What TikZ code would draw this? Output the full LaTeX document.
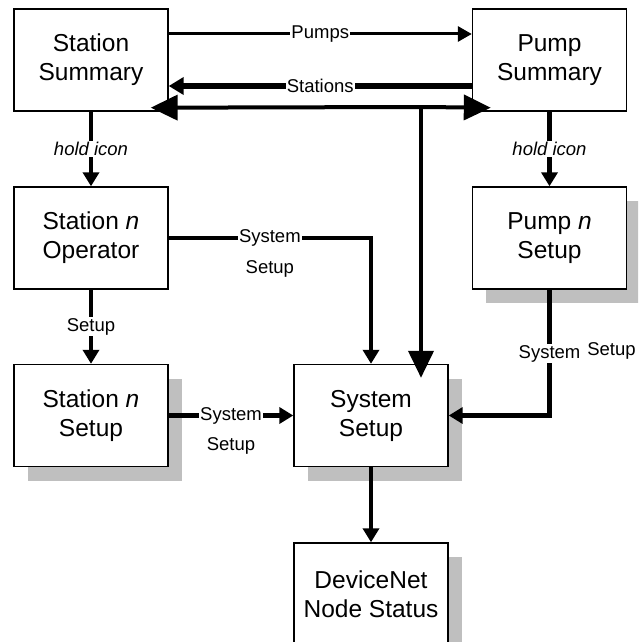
\documentclass[tikz,border=0pt]{standalone}
\usepackage{fontspec}
\setmainfont{Liberation Sans}
\usetikzlibrary{arrows.meta,shadows,calc}
\begin{document}
\begin{tikzpicture}[x=1pt,y=-1pt,
  box/.style={draw, line width=1.4pt, fill=white, minimum width=154pt, minimum height=102pt,
    align=center, inner sep=0pt, font=\fontsize{24.5}{29}\selectfont},
  shad/.style={drop shadow={shadow xshift=13.5pt, shadow yshift=-14pt, fill=black!25, opacity=1}},
  lbl/.style={fill=white, inner sep=1pt, font=\fontsize{18.5}{22}\selectfont},
  plainlbl/.style={inner sep=1pt, font=\fontsize{18.5}{22}\selectfont},
  conn/.style={line width=4.5pt, -{Triangle[length=14pt,width=16pt]}},
  thinconn/.style={line width=3pt, -{Triangle[length=14pt,width=15pt]}},
  bigconn/.style={line width=4pt, -{Triangle[length=27pt,width=25pt]}}
]
\useasboundingbox (0,0) rectangle (638,642);
\fill[white] (0,0) rectangle (638,642);
\clip (0,0) rectangle (638,642);

% boxes
\node[box] (SS) at (91,60) {Station\\Summary};
\node[box] (PS) at (549.5,60) {Pump\\Summary};
\node[box] (SO) at (91,238) {Station \textit{n}\\Operator};
\node[box,shad] (PSet) at (549.5,238) {Pump \textit{n}\\Setup};
\node[box,shad] (SSet) at (91,415.5) {Station \textit{n}\\Setup};
\node[box,shad] (Sys) at (371,415.5) {System\\Setup};
\node[box,shad] (DN) at (371,594) {DeviceNet\\Node Status};

% top connectors
\draw[thinconn] (SS.east |- 0,34) -- (PS.west |- 0,34) node[midway,lbl] {Pumps};
\draw[conn, line width=5.5pt, -{Triangle[length=15pt,width=17pt]}] (PS.west |- 0,86) -- (SS.east |- 0,86) node[midway,lbl] {Stations};

% big triple connector from System Setup
\coordinate (J) at (421,107);
\draw[bigconn] (J) -- ($(SS.south east)+(-18,-4)$);
\draw[bigconn] (J) -- ($(PS.south west)+(19,-4)$);
\draw[bigconn] (J) -- ($(Sys.north -| J)+(0,14)$);

% hold icon
\draw[conn] (SS.south) -- (SO.north) node[midway,lbl,font=\fontsize{18.5}{22}\selectfont\itshape] {hold icon};
\draw[conn] (PS.south) -- (PSet.north) node[midway,lbl,font=\fontsize{18.5}{22}\selectfont\itshape] {hold icon};

% station operator
\draw[conn] (SO.east) -| (Sys.north)
  node[pos=0.25,lbl] {System}
  node[pos=0.25,plainlbl,yshift=-31pt] {Setup};
\draw[conn] (SO.south) -- (SSet.north) node[midway,lbl] {Setup};

% station setup -> system setup
\draw[conn] (SSet.east) -- (Sys.west)
  node[midway,lbl] {System}
  node[midway,plainlbl,yshift=-30pt] {Setup};

% pump setup -> system setup
\draw[conn] (PSet.south) |- (Sys.east)
  node[pos=0.255,lbl] {System}
  node[pos=0.255,plainlbl,xshift=62pt,yshift=3pt] {Setup};

% system setup -> devicenet
\draw[conn] (Sys.south) -- (DN.north);
\end{tikzpicture}
\end{document}
